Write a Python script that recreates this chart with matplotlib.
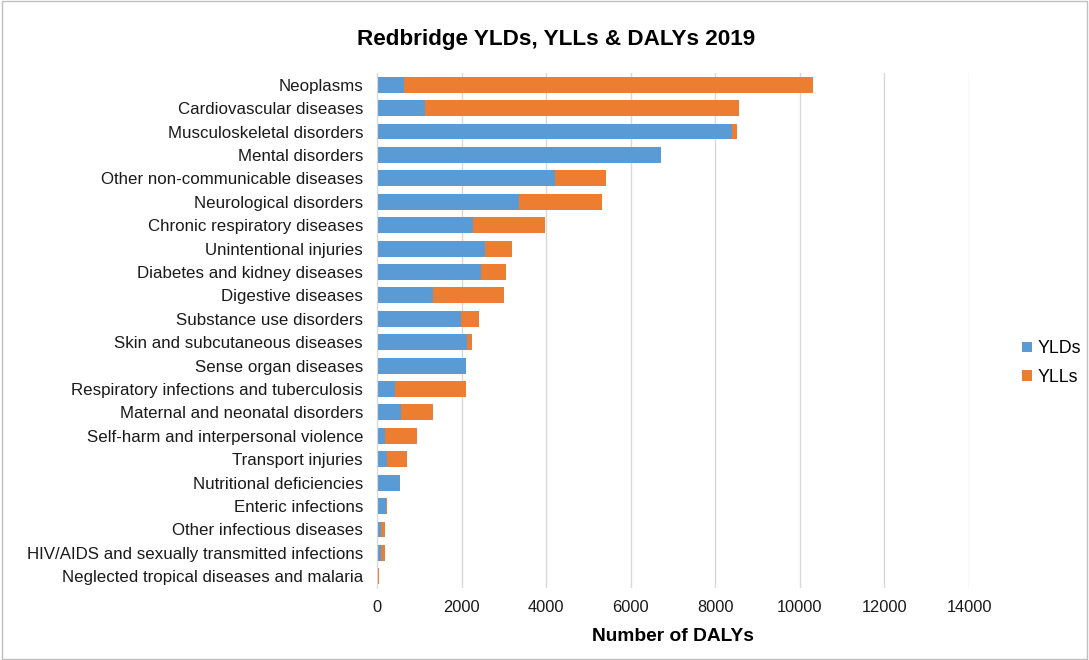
import matplotlib.pyplot as plt
from matplotlib.patches import Rectangle

categories = [
    "Neoplasms", "Cardiovascular diseases", "Musculoskeletal disorders",
    "Mental disorders", "Other non-communicable diseases", "Neurological disorders",
    "Chronic respiratory diseases", "Unintentional injuries",
    "Diabetes and kidney diseases", "Digestive diseases", "Substance use disorders",
    "Skin and subcutaneous diseases", "Sense organ diseases",
    "Respiratory infections and tuberculosis", "Maternal and neonatal disorders",
    "Self-harm and interpersonal violence", "Transport injuries",
    "Nutritional deficiencies", "Enteric infections", "Other infectious diseases",
    "HIV/AIDS and sexually transmitted infections",
    "Neglected tropical diseases and malaria",
]
ylds = [630, 1125, 8390, 6710, 4220, 3360, 2275, 2560, 2465, 1320, 1975, 2140,
        2100, 415, 575, 180, 235, 535, 205, 95, 95, 5]
ylls = [9690, 7440, 125, 10, 1195, 1950, 1705, 625, 590, 1695, 430, 110,
        0, 1685, 745, 770, 480, 15, 30, 95, 95, 40]

plt.rcParams['font.family'] = ['Liberation Sans', 'DejaVu Sans']

fig = plt.figure(figsize=(10.89, 6.60), dpi=100)
ax = fig.add_axes([377 / 1089, 1 - 588 / 660, (969 - 377) / 1089, (588 - 73) / 660])

y = list(range(len(categories)))
ax.barh(y, ylds, height=0.68, color='#5B9BD5', label='YLDs', zorder=2)
ax.barh(y, ylls, left=ylds, height=0.68, color='#ED7D31', label='YLLs', zorder=2)

ax.set_ylim(len(categories) - 0.5, -0.5)
ax.set_yticks(y)
ax.set_yticklabels(categories, fontsize=12.2, color='#1a1a1a')
ax.set_xlim(0, 14000)
ax.set_xticks(range(0, 14001, 2000))
ax.tick_params(axis='x', labelsize=11.8, length=0, pad=9, labelcolor='#1a1a1a')
ax.tick_params(axis='y', length=0, pad=10)
ax.grid(True, axis='x', color='#D9D9D9', linewidth=1, zorder=0)
for s in ['top', 'right', 'bottom']:
    ax.spines[s].set_visible(False)
ax.spines['left'].set_color('#D9D9D9')
ax.set_xlabel('Number of DALYs', fontsize=13.8, fontweight='bold', labelpad=9)

fig.text(556 / 1089, 1 - 40 / 660, 'Redbridge YLDs, YLLs & DALYs 2019',
         ha='center', va='center', fontsize=16.2, fontweight='bold')

fig.legend(loc='center left', bbox_to_anchor=(1006 / 1089, 1 - 363 / 660), frameon=False,
           fontsize=12.8, handlelength=0.55, handleheight=0.55, handletextpad=0.3,
           labelspacing=0.65)

fig.patches.append(Rectangle((0.002, 0.002), 0.996, 0.996, transform=fig.transFigure,
                             fill=False, edgecolor='#BFBFBF', linewidth=1))

fig.savefig('out.png', dpi=100)
